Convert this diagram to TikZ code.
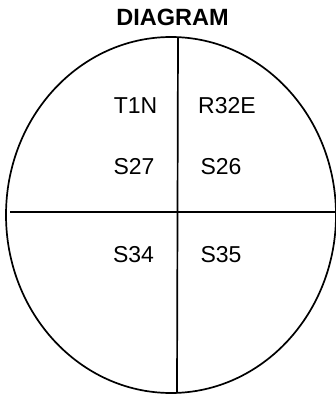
\documentclass[tikz,border=0pt]{standalone}
\usepackage{fontspec}
\setmainfont{Liberation Sans}
\tikzstyle{lbl}=[inner sep=0pt, font=\fontsize{23}{27}\selectfont]
\tikzstyle{ttl}=[inner sep=0pt, font=\fontsize{23.5}{27}\selectfont\bfseries]

\begin{document}
\begin{tikzpicture}[x=1pt, y=-1pt, line width=1.7pt]
    \useasboundingbox (0,0) rectangle (336,396);
    \coordinate (c) at (171,215);
    \coordinate (top) at (178,37);
    \coordinate (bot) at (177,393);
    \coordinate (lft) at (10,212);
    \coordinate (rgt) at (335,212);
    \draw (c) ellipse [x radius=165pt, y radius=178pt];
    \draw (top) -- (bot);
    \draw (lft) -- (rgt);
    \node[ttl] (title) at (172.5,17.5) {DIAGRAM};
    \node[lbl] (t1n) at (135.5,105.5) {T1N};
    \node[lbl] (r32e) at (227,105.5) {R32E};
    \node[lbl] (s27) at (134,166.5) {S27};
    \node[lbl] (s26) at (221,166.5) {S26};
    \node[lbl] (s34) at (133.5,255) {S34};
    \node[lbl] (s35) at (221,255) {S35};
\end{tikzpicture}
\end{document}
